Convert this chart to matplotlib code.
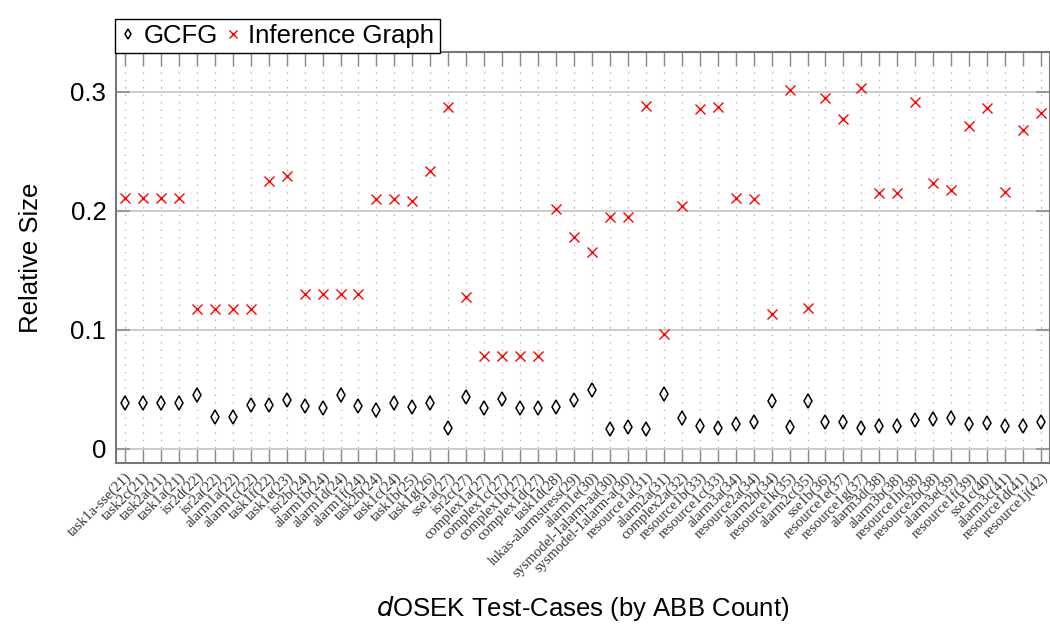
import matplotlib.pyplot as plt

# test cases (x axis), in ABB-count order
cases = ['task1a-sse(21)', 'task2c(21)', 'task2a(21)', 'task1a(21)', 'isr2d(22)',
         'isr2a(22)', 'alarm1a(22)', 'alarm1c(22)', 'task1f(22)', 'task1e(23)',
         'isr2b(24)', 'alarm1b(24)', 'alarm1d(24)', 'alarm1f(24)', 'task2b(24)',
         'task1c(24)', 'task1b(25)', 'task1g(26)', 'sse1a(27)', 'isr2c(27)',
         'complex1a(27)', 'complex1c(27)', 'complex1b(27)', 'complex1d(27)', 'task1d(28)',
         'lukas-alarmstress(29)', 'alarm1e(30)', 'sysmodel-1alarm-aa(30)',
         'sysmodel-1alarm-a(30)', 'resource1a(31)', 'alarm2a(31)', 'complex2a(32)',
         'resource1b(33)', 'resource1c(33)', 'alarm3a(34)', 'resource2a(34)',
         'alarm2b(34)', 'resource1k(35)', 'alarm2c(35)', 'sse1b(36)', 'resource1e(37)',
         'resource1g(37)', 'alarm3d(38)', 'alarm3b(38)', 'resource1h(38)',
         'resource2b(38)', 'alarm3e(39)', 'resource1f(39)', 'sse1c(40)', 'alarm3c(41)',
         'resource1d(41)', 'resource1j(42)']

gcfg = [0.0387, 0.0387, 0.0387, 0.0387, 0.0457, 0.0269, 0.0269, 0.037, 0.037, 0.0415,
        0.036, 0.0345, 0.0454, 0.036, 0.0328, 0.0384, 0.035, 0.0387, 0.0174, 0.0437,
        0.0342, 0.0423, 0.0342, 0.0342, 0.0353, 0.0415, 0.0499, 0.0165, 0.0188, 0.0165,
        0.0459, 0.0263, 0.019, 0.018, 0.0207, 0.0224, 0.0406, 0.0185, 0.0406, 0.023,
        0.023, 0.018, 0.0193, 0.0193, 0.0241, 0.0255, 0.026, 0.0213, 0.0218, 0.0196,
        0.0196, 0.0224]

inference = [0.211, 0.211, 0.211, 0.211, 0.118, 0.118, 0.118, 0.118, 0.2255, 0.229,
             0.130, 0.130, 0.130, 0.130, 0.210, 0.210, 0.208, 0.234, 0.287, 0.1275,
             0.078, 0.078, 0.078, 0.078, 0.2017, 0.1784, 0.1655, 0.1947, 0.1947, 0.2885,
             0.0966, 0.2045, 0.2857, 0.2874, 0.2107, 0.2103, 0.1134, 0.3014, 0.1182, 0.295,
             0.277, 0.3034, 0.2154, 0.2154, 0.2916, 0.2238, 0.2176, 0.2717, 0.2863, 0.2163,
             0.2678, 0.2821]

yticks = [0, 0.1, 0.2, 0.3]
ytick_labels = ['0', '0.1', '0.2', '0.3']

plt.rcParams['font.family'] = ['Liberation Sans', 'DejaVu Sans']

fig = plt.figure(figsize=(10.5, 6.28), dpi=100)
ax = fig.add_axes([0.1105, 0.2627, 0.8895, 0.6545])

x = list(range(len(cases)))
ax.plot(x, gcfg, linestyle='none', marker='d', markersize=7, markerfacecolor='none',
        markeredgecolor='black', markeredgewidth=1.1, label='GCFG', zorder=3)
ax.plot(x, inference, linestyle='none', marker='x', markersize=7.5, color='red',
        markeredgewidth=1.0, label='Inference Graph', zorder=3)

ax.set_xlim(-0.5, len(cases) - 0.5)
ax.set_ylim(-0.0118, 0.3336)

ax.set_xticks(x)
ax.set_xticklabels(cases, rotation=45, ha='right', rotation_mode='anchor',
                   fontsize=10.5, family='Liberation Serif', color='#333333')
ax.set_yticks(yticks)
ax.set_yticklabels(ytick_labels, fontsize=18.5)

ax.tick_params(axis='x', direction='in', length=10, width=1, color='#888888',
               top=True, bottom=True, pad=5)
ax.tick_params(axis='y', direction='in', length=10, width=1.5, color='#999999',
               left=True, right=True, pad=7)

# grid: solid horizontal, dotted vertical
ax.grid(axis='y', color='#cccccc', linewidth=1.4)
ax.grid(axis='x', color='#aaaaaa', linestyle=(0, (1, 5)), linewidth=0.9)
ax.set_axisbelow(True)

for s in ax.spines.values():
    s.set_color('#777777')
    s.set_linewidth(1.5)

ax.set_ylabel('Relative Size', fontsize=18.5, labelpad=20)
ax.set_xlabel('$d$OSEK Test-Cases (by ABB Count)', fontsize=18.5, labelpad=10)

leg = ax.legend(loc='lower left', bbox_to_anchor=(-0.001, 0.998), ncol=2, fontsize=18.5,
                frameon=True, fancybox=False, edgecolor='black', framealpha=1,
                handlelength=0.6, handletextpad=0.3, columnspacing=0.3,
                borderpad=0.2, borderaxespad=0, markerscale=0.8)
leg.get_frame().set_linewidth(1.0)

fig.savefig('out.png', dpi=100)
